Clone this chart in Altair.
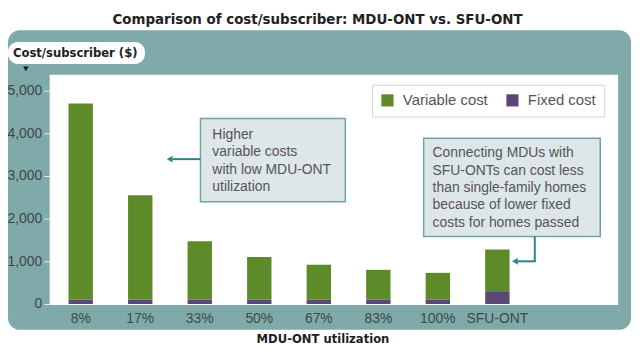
import altair as alt
import pandas as pd

categories = ["8%", "17%", "33%", "50%", "67%", "83%", "100%", "SFU-ONT"]
variable_cost = [4600, 2450, 1370, 1000, 820, 700, 630, 980]
fixed_cost = [100, 100, 100, 100, 100, 100, 100, 300]
cost_types = ["Variable cost", "Fixed cost"]
y_ticks = [0, 1000, 2000, 3000, 4000, 5000]

title_text = "Comparison of cost/subscriber: MDU-ONT vs. SFU-ONT"
y_title_text = "Cost/subscriber ($)"
note1_lines = ["Higher", "variable costs", "with low MDU-ONT", "utilization"]
note2_lines = ["Connecting MDUs with", "SFU-ONTs can cost less", "than single-family homes",
               "because of lower fixed", "costs for homes passed"]

rows = []
for c, v, f in zip(categories, variable_cost, fixed_cost):
    rows.append({"cat": c, "type": "Fixed cost", "value": f, "ord": 0})
    rows.append({"cat": c, "type": "Variable cost", "value": v, "ord": 1})
df = pd.DataFrame(rows)

BOLD = "DejaVu Sans Condensed, sans-serif"
REG = "Liberation Sans, Arial, sans-serif"
TEAL = "#80aaa9"
ARROW = "#2b8289"

one = pd.DataFrame({"k": [0]})


def rect(x, x2, y, y2, **kw):
    return alt.Chart(one).mark_rect(**kw).encode(
        x=alt.value(x), x2=alt.value(x2), y=alt.value(y), y2=alt.value(y2))


def text(x, y, t, **kw):
    return alt.Chart(one).mark_text(**kw).encode(
        x=alt.value(x), y=alt.value(y), text=alt.value(t))


panel = rect(-42, 586, -45, 257, color=TEAL, cornerRadius=12)
white = rect(0, 573, 0, 232, color="white")
tab = rect(-42, 96, -33, -11, color="white", cornerRadius=10)
tab_text = text(-37, -22, y_title_text, align="left", baseline="middle", font=BOLD,
                fontSize=13, fontWeight="bold", color="#222222")
tri = alt.Chart(one).mark_point(shape="triangle-down", filled=True, color="#111111",
                                size=30, opacity=1).encode(x=alt.value(-24), y=alt.value(-6))
title = text(270, -56, title_text, align="center", baseline="middle", font=BOLD,
             fontSize=15, fontWeight="bold", color="#222222")

bars = alt.Chart(df).mark_bar().encode(
    x=alt.X("cat:N", sort=categories,
            scale=alt.Scale(domain=categories, range=[19, 463.6], paddingInner=0.59, paddingOuter=0),
            axis=alt.Axis(title="MDU-ONT utilization", labelAngle=0, ticks=False, domain=False,
                          labelPadding=8, labelFont=REG, labelFontSize=14, labelColor="#3b4848",
                          titleFont=BOLD, titleFontSize=13, titleFontWeight="bold",
                          titleColor="#1e1e1e", titleX=275, titleY=35, titleBaseline="middle",
                          titleAlign="center", zindex=1)),
    y=alt.Y("value:Q", stack="zero",
            scale=alt.Scale(domain=[0, 5372], nice=False),
            axis=alt.Axis(title=None, values=y_ticks, format=",d", domain=False, grid=False,
                          tickColor="#e3eaea", tickSize=6, labelPadding=2, labelFont=REG,
                          labelFontSize=14, labelColor="#3b4848", zindex=1)),
    color=alt.Color("type:N", scale=alt.Scale(domain=cost_types, range=["#5e8b2a", "#5c4877"]),
                    legend=alt.Legend(title=None, orient="none", legendX=325, legendY=10,
                                      direction="horizontal", fillColor="white",
                                      strokeColor="#cfd8d8", padding=8, symbolType="square",
                                      symbolSize=150, symbolStrokeWidth=0, labelFont=REG,
                                      labelFontSize=15, labelColor="#555555", columnPadding=17,
                                      labelOffset=8, zindex=1)),
    order=alt.Order("ord:Q"),
)

box1 = rect(152, 298, 44, 128, color="#dde6e8", stroke="#6fa3a4", strokeWidth=1.5)
box1_text = text(164, 54, note1_lines, align="left", baseline="top", font=REG, fontSize=14,
                 lineHeight=17.3, color="#555555")
arrow1 = alt.Chart(one).mark_rule(color=ARROW, strokeWidth=2).encode(
    x=alt.value(124), x2=alt.value(152), y=alt.value(85))
head1 = alt.Chart(one).mark_point(shape="triangle-left", filled=True, color=ARROW, size=45,
                                  opacity=1).encode(x=alt.value(121), y=alt.value(85))

box2 = rect(377, 555, 64, 163, color="#dde6e8", stroke="#6fa3a4", strokeWidth=1.5)
box2_text = text(386, 72, note2_lines, align="left", baseline="top", font=REG, fontSize=14,
                 lineHeight=17.5, color="#555555")
conn_v = alt.Chart(one).mark_rule(color=ARROW, strokeWidth=2).encode(
    x=alt.value(489), y=alt.value(163), y2=alt.value(188))
conn_h = alt.Chart(one).mark_rule(color=ARROW, strokeWidth=2).encode(
    x=alt.value(472), x2=alt.value(490), y=alt.value(188))
head2 = alt.Chart(one).mark_point(shape="triangle-left", filled=True, color=ARROW, size=45,
                                  opacity=1).encode(x=alt.value(469), y=alt.value(188))

chart = alt.layer(
    panel, white, tab, tab_text, tri, title, bars,
    box1, box1_text, arrow1, head1, box2, box2_text, conn_v, conn_h, head2,
).resolve_scale(color="independent").properties(
    width=573, height=231,
    autosize=alt.AutoSizeParams(type="none"),
    padding={"left": 42, "top": 66, "right": 14, "bottom": 42},
).configure_view(stroke=None)

chart.save("out.html", embed_options={"renderer": "svg", "actions": False})
